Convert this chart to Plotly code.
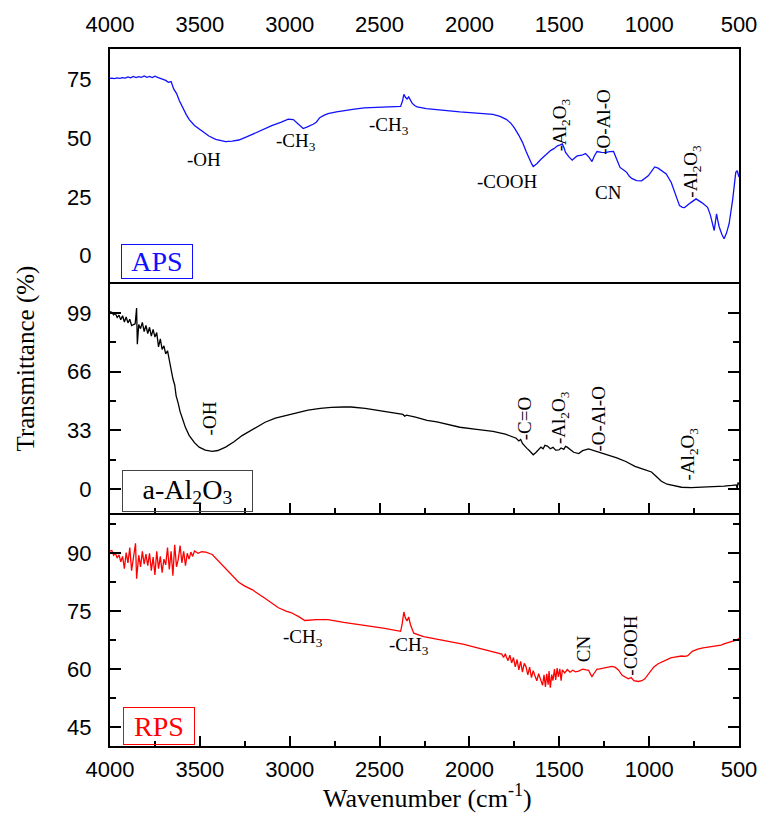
import plotly.graph_objects as go

# ---------------- data ----------------
aps_wn = [4000, 3990, 3975, 3960, 3945, 3930, 3915, 3900, 3885, 3870, 3855, 3840, 3825, 3810, 3795, 3780,
          3765, 3750, 3735, 3720, 3705, 3690, 3675, 3660, 3645, 3630, 3614, 3595, 3575, 3559, 3530, 3486,
          3450, 3412, 3380, 3357, 3320, 3283, 3240, 3191, 3150, 3100, 3050, 3008, 2980, 2955, 2925, 2905,
          2888, 2870, 2852, 2833, 2810, 2787, 2740, 2695, 2640, 2585, 2530, 2475, 2420, 2383, 2372, 2365,
          2356, 2347, 2338, 2328, 2319, 2305, 2291, 2240, 2181, 2120, 2053, 1960, 1869, 1830, 1795, 1770,
          1750, 1725, 1704, 1685, 1667, 1655, 1645, 1625, 1602, 1575, 1547, 1530, 1510, 1495, 1483, 1474,
          1465, 1445, 1428, 1415, 1400, 1375, 1354, 1335, 1318, 1305, 1290, 1265, 1244, 1220, 1198, 1180,
          1162, 1140, 1125, 1110, 1097, 1070, 1042, 1005, 969, 950, 932, 905, 877, 855, 831, 815,
          803, 770, 739, 705, 675, 660, 647, 638, 631, 625, 618, 610, 595, 583, 570, 555,
          535, 518, 510, 500]
aps_t = [75.6, 75.7, 75.5, 75.8, 75.6, 75.9, 75.7, 76.2, 75.8, 76.4, 75.9, 76.3, 76.0, 76.6, 76.0, 76.4,
         75.9, 76.5, 76.0, 75.6, 75.3, 74.7, 73.9, 74.2, 71.0, 69.2, 66.0, 62.8, 60.0, 58.0, 55.5, 53.0,
         51.0, 49.6, 48.9, 48.6, 48.8, 49.3, 50.6, 52.3, 53.8, 55.4, 56.8, 58.2, 58.0, 56.3, 54.2, 54.8,
         55.3, 56.0, 56.9, 58.8, 59.8, 60.5, 61.3, 61.9, 62.5, 63.0, 63.2, 63.3, 63.5, 63.6, 66.0, 68.8,
         67.5, 66.8, 67.7, 66.3, 65.0, 64.0, 63.4, 62.7, 62.2, 61.8, 61.3, 60.8, 60.2, 59.4, 58.1, 56.5,
         54.5, 51.3, 48.2, 44.5, 41.1, 39.3, 38.0, 39.2, 41.1, 42.9, 44.9, 45.6, 46.8, 47.2, 47.6, 46.0,
         44.0, 42.0, 40.7, 41.6, 42.5, 42.8, 43.5, 42.0, 40.1, 42.5, 44.4, 44.0, 43.9, 44.3, 44.4, 41.0,
         37.6, 36.4, 35.5, 33.8, 32.9, 32.0, 31.9, 34.0, 37.8, 37.3, 36.4, 34.8, 31.2, 26.0, 21.3, 20.6,
         20.5, 22.5, 24.2, 22.5, 20.6, 17.5, 13.6, 10.7, 14.5, 17.8, 15.0, 12.2, 9.0, 7.2, 9.5, 13.6,
         24.0, 35.5, 36.2, 33.5]

al_wn = [4000, 3990, 3980, 3970, 3960, 3950, 3940, 3930, 3920, 3910, 3900, 3890, 3880, 3860, 3852, 3848,
         3840, 3830, 3820, 3810, 3800, 3790, 3780, 3770, 3760, 3750, 3740, 3730, 3720, 3710, 3700, 3690,
         3680, 3670, 3660, 3650, 3640, 3632, 3620, 3610, 3596, 3580, 3559, 3530, 3504, 3470, 3431, 3400,
         3357, 3310, 3265, 3200, 3137, 3080, 3026, 2960, 2898, 2830, 2769, 2700, 2659, 2580, 2494, 2420,
         2370, 2360, 2350, 2300, 2236, 2181, 2120, 2053, 1960, 1869, 1800, 1759, 1740, 1725, 1715, 1704,
         1690, 1680, 1667, 1655, 1645, 1630, 1615, 1602, 1590, 1580, 1566, 1550, 1535, 1520, 1502, 1490,
         1475, 1465, 1456, 1440, 1420, 1392, 1370, 1337, 1300, 1260, 1226, 1180, 1130, 1079, 1030, 987,
         960, 932, 900, 858, 820, 767, 700, 640, 583, 540, 515, 510, 505, 500]
al_t = [99.8, 99.4, 98.0, 98.8, 96.5, 97.8, 95.2, 97.5, 94.0, 96.8, 93.5, 95.5, 92.0, 93.0, 101.8, 81.5,
        92.5, 90.2, 93.8, 88.6, 92.0, 87.5, 91.0, 86.0, 89.8, 85.5, 88.0, 80.0, 84.5, 78.5, 80.5, 76.0,
        77.8, 72.0, 68.0, 62.0, 58.5, 52.4, 48.0, 43.5, 39.3, 34.5, 30.0, 26.0, 23.5, 21.8, 21.1, 21.6,
        23.5, 26.5, 30.0, 34.0, 37.5, 39.8, 41.2, 43.0, 44.4, 45.3, 45.9, 46.1, 46.1, 45.3, 44.0, 42.8,
        41.9, 40.9, 41.5, 40.4, 38.6, 37.7, 36.2, 34.7, 33.5, 32.4, 30.8, 29.1, 28.5, 27.0, 27.8, 25.4,
        24.2, 22.8, 21.6, 20.5, 19.2, 20.5, 22.4, 23.5, 22.6, 24.5, 24.1, 22.6, 23.4, 21.8, 21.9, 23.0,
        22.2, 23.9, 23.5, 22.0, 20.6, 19.9, 21.5, 22.5, 21.4, 20.2, 19.2, 17.5, 15.4, 12.7, 11.0, 9.5,
        7.0, 4.3, 2.6, 1.5, 0.9, 0.7, 0.9, 1.1, 1.5, 1.9, 2.2, 0.2, 3.6, 2.4]

rps_wn = [4000, 3990, 3980, 3970, 3960, 3950, 3940, 3930, 3920, 3910, 3900, 3890, 3880, 3870, 3858, 3852,
          3840, 3830, 3820, 3810, 3800, 3790, 3780, 3770, 3760, 3750, 3740, 3730, 3720, 3710, 3700, 3690,
          3680, 3670, 3660, 3650, 3640, 3630, 3620, 3610, 3600, 3590, 3580, 3570, 3560, 3550, 3540, 3530,
          3510, 3490, 3467, 3431, 3395, 3357, 3320, 3284, 3250, 3210, 3140, 3063, 3020, 2990, 2950, 2916,
          2850, 2787, 2700, 2585, 2480, 2383, 2375, 2365, 2356, 2347, 2338, 2328, 2310, 2255, 2181, 2100,
          2030, 1961, 1900, 1850, 1820, 1810, 1800, 1795, 1785, 1775, 1765, 1755, 1745, 1735, 1725, 1715,
          1705, 1695, 1685, 1675, 1665, 1655, 1645, 1635, 1625, 1615, 1605, 1593, 1585, 1577, 1570, 1562,
          1557, 1550, 1542, 1535, 1527, 1520, 1512, 1505, 1497, 1490, 1483, 1470, 1455, 1440, 1425, 1410,
          1392, 1370, 1350, 1337, 1325, 1318, 1305, 1290, 1281, 1250, 1208, 1190, 1171, 1150, 1135, 1116,
          1100, 1085, 1061, 1040, 1024, 1000, 975, 950, 910, 880, 858, 820, 800, 785, 760, 730,
          700, 660, 640, 620, 600, 580, 560, 540, 520, 510, 500]
rps_t = [90.6, 90.7, 89.5, 90.0, 88.8, 89.6, 87.8, 89.2, 86.0, 90.2, 87.5, 91.5, 85.5, 89.0, 92.6, 83.4,
         89.5, 86.5, 90.5, 87.2, 89.8, 86.8, 90.0, 85.5, 89.0, 84.4, 90.5, 86.0, 89.2, 85.0, 88.5, 87.0,
         91.5, 85.8, 90.5, 84.2, 92.2, 86.5, 88.5, 92.0, 87.5, 90.5, 86.8, 90.0, 88.5, 90.3, 89.2, 90.6,
         90.0, 90.4, 90.3, 89.7, 88.0, 86.2, 84.3, 82.5, 81.5, 80.6, 78.4, 75.9, 75.0, 74.6, 73.6, 72.6,
         72.8, 72.8, 72.1, 71.4, 70.6, 69.8, 71.5, 74.8, 73.2, 72.5, 73.5, 71.5, 69.3, 68.4, 67.8, 67.1,
         66.4, 65.6, 64.9, 64.4, 63.9, 63.0, 64.0, 63.2, 62.2, 63.6, 61.6, 63.0, 60.6, 62.5, 59.8, 62.0,
         59.2, 61.5, 60.6, 58.5, 60.5, 57.8, 59.6, 58.2, 57.0, 58.8, 57.5, 55.8, 58.5, 55.4, 58.8, 56.0,
         59.5, 55.2, 58.6, 57.0, 60.0, 57.2, 60.3, 58.0, 60.1, 57.0, 59.8, 59.0, 59.9, 59.2, 59.7, 59.3,
         59.5, 60.0, 59.8, 59.7, 58.6, 58.1, 59.0, 60.0, 60.0, 60.3, 60.7, 60.5, 59.8, 58.4, 57.9, 57.5,
         57.8, 57.0, 56.8, 57.0, 57.5, 59.0, 60.5, 61.4, 62.3, 62.9, 63.1, 63.4, 63.3, 63.5, 64.6, 65.2,
         65.5, 65.8, 66.0, 66.1, 66.2, 66.6, 66.9, 67.2, 67.5, 67.6, 68.0]

x_ticks = [4000, 3500, 3000, 2500, 2000, 1500, 1000, 500]
aps_yticks = [0, 25, 50, 75]
al_yticks = [0, 33, 66, 99]
rps_yticks = [45, 60, 75, 90]

# peak labels: (text, wavenumber, transmittance, rotated)
aps_labels = [("-OH", 3476, 41.1, False), ("-CH<sub>3</sub>", 2964, 48.3, False),
              ("-CH<sub>3</sub>", 2446, 55.1, False), ("-COOH", 1790, 31.8, False),
              ("-Al<sub>2</sub>O<sub>3</sub>", 1492, 55.9, True), ("-O-Al-O", 1255, 56.8, True),
              ("CN", 1228, 27.1, False), ("-Al<sub>2</sub>O<sub>3</sub>", 759, 36.0, True)]
al_labels = [("-OH", 3449, 39.7, True), ("-C=O", 1696, 39.2, True),
             ("-Al<sub>2</sub>O<sub>3</sub>", 1492, 40.3, True), ("-O-Al-O", 1283, 39.2, True),
             ("-Al<sub>2</sub>O<sub>3</sub>", 776, 19.6, True)]
rps_labels = [("-CH<sub>3</sub>", 2925, 68.1, False), ("-CH<sub>3</sub>", 2335, 66.1, False),
              ("CN", 1365, 65.3, True), ("-COOH", 1106, 66.1, True)]

BLUE = "#1010ff"
RED = "#ff0000"
SERIF = "Liberation Serif, Times New Roman, serif"
SANS = "Liberation Sans, Arial, sans-serif"

fig = go.Figure()
fig.add_trace(go.Scatter(x=aps_wn, y=aps_t, mode="lines", line=dict(color=BLUE, width=1.3),
                         xaxis="x3", yaxis="y", showlegend=False))
fig.add_trace(go.Scatter(x=al_wn, y=al_t, mode="lines", line=dict(color="black", width=1.3),
                         xaxis="x2", yaxis="y2", showlegend=False))
fig.add_trace(go.Scatter(x=rps_wn, y=rps_t, mode="lines", line=dict(color=RED, width=1.3),
                         xaxis="x", yaxis="y3", showlegend=False))

tickfont = dict(family=SANS, size=22, color="black")
common_x = dict(range=[4000, 500], showline=True, linewidth=2, linecolor="black", mirror=True,
                showgrid=False, zeroline=False, tickvals=x_ticks)

fig.update_layout(
    width=769, height=815,
    margin=dict(l=110, r=24, t=44, b=69),
    paper_bgcolor="white", plot_bgcolor="white",
    xaxis=dict(**common_x, anchor="y3", ticks="inside", ticklen=10, tickwidth=1.5, tickcolor="black",
               minor=dict(ticks="inside", ticklen=5, tickwidth=1.5, dtick=250, tick0=0, tickcolor="black"),
               tickfont=tickfont, ticklabelstandoff=3),
    xaxis2=dict(**common_x, anchor="y2", matches="x", ticks="inside", ticklen=10, tickwidth=1.5,
                tickcolor="black", showticklabels=False,
                minor=dict(ticks="inside", ticklen=5, tickwidth=1.5, dtick=250, tick0=0, tickcolor="black")),
    xaxis3=dict(**common_x, anchor="y", matches="x", side="top", ticks="", showticklabels=True,
                tickfont=tickfont, ticklabelstandoff=6),
    yaxis=dict(domain=[0.6652, 1.0], range=[-11.4, 88.1], tickvals=aps_yticks, ticks="",
               showline=True, linewidth=2, linecolor="black", mirror=True, showgrid=False,
               zeroline=False, tickfont=tickfont, ticklabelstandoff=12),
    yaxis2=dict(domain=[0.3348, 0.6624], range=[-13.4, 115.2], tickvals=al_yticks, ticks="inside",
                ticklen=11, tickwidth=1.5, tickcolor="black",
                minor=dict(ticks="inside", ticklen=6, tickwidth=1.5, dtick=16.5, tick0=0, tickcolor="black"),
                showline=True, linewidth=2, linecolor="black", mirror="ticks", showgrid=False,
                zeroline=False, tickfont=tickfont, ticklabelstandoff=12),
    yaxis3=dict(domain=[0.0, 0.3319], range=[40.1, 100.0], tickvals=rps_yticks, ticks="inside",
                ticklen=11, tickwidth=1.5, tickcolor="black",
                minor=dict(ticks="inside", ticklen=6, tickwidth=1.5, dtick=7.5, tick0=0, tickcolor="black"),
                showline=True, linewidth=2, linecolor="black", mirror="ticks", showgrid=False,
                zeroline=False, tickfont=tickfont, ticklabelstandoff=12),
)

annotations = []
def add_labels(labels, xref, yref):
    for text, wn, t, rot in labels:
        annotations.append(dict(text=text, x=wn, y=t, xref=xref, yref=yref, showarrow=False,
                                textangle=-90 if rot else 0,
                                font=dict(family=SERIF, size=19, color="black"),
                                xanchor="center", yanchor="middle"))

add_labels(aps_labels, "x3", "y")
add_labels(al_labels, "x2", "y2")
add_labels(rps_labels, "x", "y3")

# sample boxes
annotations.append(dict(text="APS", xref="paper", yref="paper", x=0.0173, y=0.7208,
                        xanchor="left", yanchor="top", showarrow=False, width=70, height=33,
                        bordercolor=BLUE, borderwidth=1, borderpad=0,
                        font=dict(family=SERIF, size=28, color=BLUE)))
annotations.append(dict(text="a-Al<sub>2</sub>O<sub>3</sub>", xref="paper", yref="paper", x=0.0189, y=0.3960,
                        xanchor="left", yanchor="top", showarrow=False, width=129, height=40,
                        bordercolor="#444444", borderwidth=1, borderpad=0,
                        font=dict(family=SERIF, size=28, color="black")))
annotations.append(dict(text="RPS", xref="paper", yref="paper", x=0.0205, y=0.0556,
                        xanchor="left", yanchor="top", showarrow=False, width=70, height=36,
                        bordercolor=RED, borderwidth=1, borderpad=0,
                        font=dict(family=SERIF, size=28, color=RED)))

# axis titles
annotations.append(dict(text="Transmittance (%)", xref="paper", yref="paper", x=-0.134, y=0.5556,
                        textangle=-90, showarrow=False, xanchor="center", yanchor="middle",
                        font=dict(family=SERIF, size=25, color="black")))
annotations.append(dict(text="Wavenumber (cm<sup>-1</sup>)", xref="paper", yref="paper", x=0.504, y=-0.0726,
                        showarrow=False, xanchor="center", yanchor="middle",
                        font=dict(family=SERIF, size=26, color="black")))

fig.update_layout(annotations=annotations)
fig.write_html("out.html")
